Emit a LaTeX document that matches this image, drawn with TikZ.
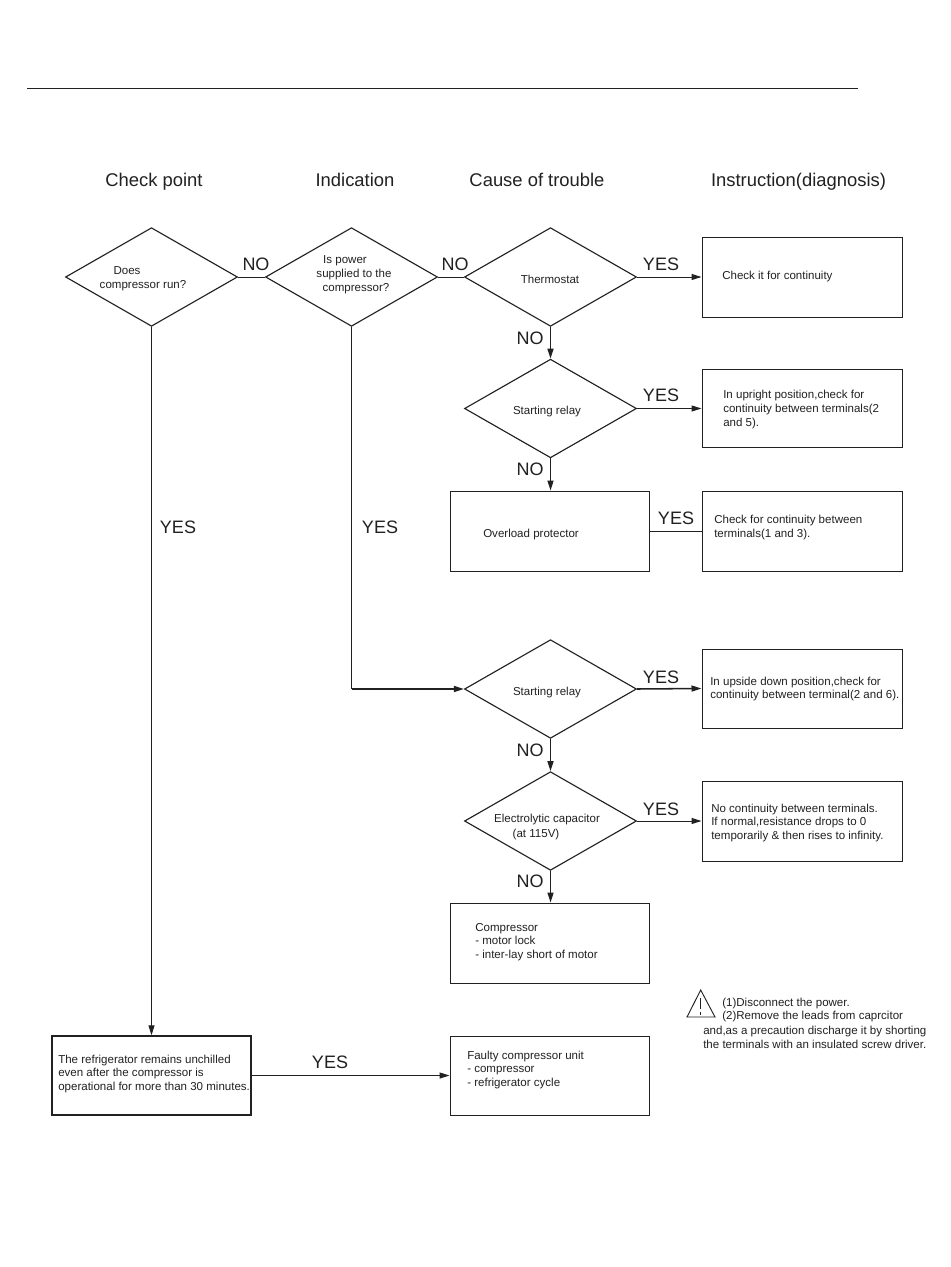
\documentclass[tikz,border=0pt]{standalone}
\usepackage{fontspec}
\setmainfont{Liberation Sans}
\usetikzlibrary{shapes.geometric,arrows.meta}
\definecolor{ink}{gray}{0.13}
\tikzset{
  dia/.style={draw=ink,diamond,line width=0.85pt,inner sep=0pt,minimum width=129pt,minimum height=74pt},
  box/.style={draw=ink,rectangle,line width=0.75pt,inner sep=0pt,minimum width=150pt,minimum height=60pt},
  smalltxt/.style={anchor=west,inner sep=0pt,align=left,text=ink,font=\fontsize{8.65}{10.3}\selectfont},
  ctrtxt/.style={anchor=center,inner sep=0pt,align=center,text=ink,font=\fontsize{8.65}{10.3}\selectfont},
  head/.style={anchor=base,inner sep=0pt,text=ink,font=\fontsize{13.8}{16}\selectfont},
  lab/.style={anchor=center,inner sep=0pt,text=ink,font=\fontsize{13.5}{16}\selectfont},
  conn/.style={draw=ink,line width=0.65pt},
  arr/.style={draw=ink,line width=0.75pt,-{Triangle[length=7.5pt,width=4.5pt]}},
  arrthick/.style={draw=ink,line width=1.15pt,-{Triangle[length=7.5pt,width=4.5pt]}},
}
\begin{document}
\begin{tikzpicture}[x=0.75pt,y=-0.75pt]
\useasboundingbox[fill=white] (0,0) rectangle (950,1267);
\coordinate (ruleL) at (27,88);
\coordinate (ruleR) at (858,88);
\draw[draw=ink,line width=0.75pt] (ruleL) -- (ruleR);
% headers
\node[head] (h1) at (154,186) {Check point};
\node[head] (h2) at (355,186) {Indication};
\node[head] (h3) at (537,186) {Cause of trouble};
\node[head] (h4) at (798.5,186) {Instruction(diagnosis)};
% diamonds
\node[dia] (d1) at (151.5,277) {};
\node[dia] (d2) at (351.5,277) {};
\node[dia] (d3) at (550.5,277) {};
\node[dia] (d4) at (550.5,408.5) {};
\node[dia] (d5) at (550.5,689) {};
\node[dia] (d6) at (550.5,821) {};
% boxes
\node[box] (b1) at (802,277) {};
\node[box,minimum height=58pt] (b2) at (802,408.5) {};
\node[box,minimum width=149.25pt] (b3) at (549.5,531) {};
\node[box] (b4) at (802,531) {};
\node[box,minimum height=59.25pt] (b5) at (802,688.5) {};
\node[box] (b6) at (802,821) {};
\node[box,minimum width=149.25pt] (b7) at (549.5,943) {};
\node[box,minimum width=149.25pt,minimum height=59.25pt,line width=1pt] (b8) at (151.5,1075.5) {};
\node[box,minimum width=149.25pt,minimum height=59.25pt] (b9) at (549.5,1075.5) {};
% diamond texts
\node[ctrtxt] (t1) at (127,270.5) {Does};
\node[ctrtxt] (t1b) at (143,286) {compressor run?};
\node[ctrtxt] (t2) at (345,261) {Is power};
\node[ctrtxt] (t2b) at (354,275) {supplied to the};
\node[ctrtxt] (t2c) at (356,289) {compressor?};
\node[ctrtxt] (t3) at (550,279) {Thermostat};
\node[ctrtxt] (t4) at (547,412) {Starting relay};
\node[ctrtxt] (t5) at (547,693) {Starting relay};
\node[ctrtxt] (t6) at (547,819.5) {Electrolytic capacitor};
\node[ctrtxt] (t6b) at (536,834.5) {(at 115V)};
% box texts
\node[smalltxt] (x1) at (722,277) {Check it for continuity};
\node[smalltxt] (x2) at (723,409.5) {In upright position,check for\\continuity between terminals(2\\and 5).};
\node[smalltxt] (x3) at (483,535) {Overload protector};
\node[smalltxt] (x4) at (714,527.5) {Check for continuity between\\terminals(1 and 3).};
\node[smalltxt] (x5) at (710,689) {In upside down position,check for\\continuity between terminal(2 and 6).};
\node[smalltxt] (x6) at (711,823) {No continuity between terminals.\\If normal,resistance drops to 0\\temporarily \& then rises to infinity.};
\node[smalltxt] (x7) at (475,942) {Compressor\\- motor lock\\- inter-lay short of motor};
\node[smalltxt] (x8) at (58,1074) {The refrigerator remains unchilled\\even after the compressor is\\operational for more than 30 minutes.};
\node[smalltxt] (x9) at (467,1070) {Faulty compressor unit\\- compressor\\- refrigerator cycle};
% warning
\coordinate (wa) at (700.7,990);
\coordinate (wb) at (715,1017);
\coordinate (wc) at (687,1017);
\draw[draw=ink,line width=0.7pt,line join=miter] (wa) -- (wb) -- (wc) -- cycle;
\coordinate (we1) at (700.7,998);
\coordinate (we2) at (700.7,1009);
\coordinate (we3) at (700.7,1011.5);
\coordinate (we4) at (700.7,1014.5);
\draw[draw=ink,line width=1pt] (we1) -- (we2) (we3) -- (we4);
\node[smalltxt] (w1) at (722,1004) {(1)Disconnect the power.};
\node[smalltxt] (w2) at (722,1017) {(2)Remove the leads from caprcitor};
\node[smalltxt] (w3) at (703,1037) {and,as a precaution discharge it by shorting\\the terminals with an insulated screw driver.};
% connectors
\draw[conn] (d1.east) -- (d2.west);
\draw[conn] (d2.east) -- (d3.west);
\draw[arr] (d3.east) -- (b1.west);
\draw[arrthick] (d3.south) -- (d4.north);
\draw[arr] (d4.east) -- (b2.west);
\draw[arrthick] (d4.south) -- (b3.north -| d4.south);
\draw[conn] (b3.east) -- (b4.west);
\coordinate (turn) at (d2.south |- d5.west);
\draw[conn] (d2.south) -- (turn);
\draw[arrthick] (turn) -- (d5.west);
\draw[arrthick] (d5.east) -- (b5.west);
\draw[arrthick] (d5.south) -- (d6.north);
\draw[arr] (d6.east) -- (b6.west);
\draw[arrthick] (d6.south) -- (b7.north -| d6.south);
\draw[arr] (d1.south) -- (b8.north);
\draw[arr] (b8.east) -- (b9.west);
% connector labels
\node[lab] (n1) at (256,264) {NO};
\node[lab] (n2) at (455,264) {NO};
\node[lab] (n3) at (530,338) {NO};
\node[lab] (n4) at (530,469) {NO};
\node[lab] (n5) at (530,750) {NO};
\node[lab] (n6) at (530,881) {NO};
\node[lab] (y1) at (661,264) {YES};
\node[lab] (y2) at (661,395) {YES};
\node[lab] (y3) at (676,518) {YES};
\node[lab] (y4) at (661,677) {YES};
\node[lab] (y5) at (661,809) {YES};
\node[lab] (y6) at (178,527) {YES};
\node[lab] (y7) at (380,527) {YES};
\node[lab] (y8) at (330,1062) {YES};
\end{tikzpicture}
\end{document}
